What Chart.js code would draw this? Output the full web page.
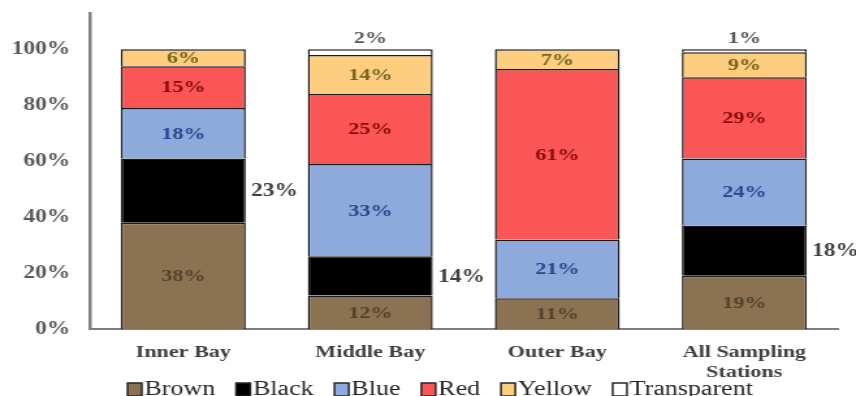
<!DOCTYPE html>
<html>
<head>
<meta charset="utf-8">
<script src="https://cdn.jsdelivr.net/npm/chart.js@4/dist/chart.umd.min.js"></script>
<style>
  body { margin: 0; background: #fff; overflow: hidden; }
  /* the source figure is stretched sideways, so the canvas is too */
  #wrap { width: 658px; height: 396px; transform: scaleX(1.3009); transform-origin: 0 0; }
</style>
</head>
<body>
<div id="wrap"><canvas id="myChart"></canvas></div>
<script>
var categories = ["Inner Bay", "Middle Bay", "Outer Bay", ["All Sampling", "Stations"]];
var seriesNames = ["Brown", "Black", "Blue", "Red", "Yellow", "Transparent"];
var brown = [38, 12, 11, 19];
var black = [23, 14, 0, 18];
var blue = [18, 33, 21, 24];
var red = [15, 25, 61, 29];
var yellow = [6, 14, 7, 9];
var transparent = [0, 2, 0, 1];
var yTicks = [0, 20, 40, 60, 80, 100];

var fills = ["#8b7253", "#000000", "#8eaadc", "#fb5656", "#fdcd80", "#ffffff"];
var textColors = ["#54432c", "#404040", "#2c4590", "#8a0a0a", "#77661e", "#595959"];
var serif = "'Liberation Serif', 'DejaVu Serif', serif";

var values = [brown, black, blue, red, yellow, transparent];
var datasets = [];
for (var i = 0; i < seriesNames.length; i++) {
  datasets.push({
    label: seriesNames[i],
    data: values[i],
    backgroundColor: fills[i],
    borderColor: "#1a1a1a",
    borderWidth: 1.5,
    categoryPercentage: 1,
    barPercentage: 0.668
  });
}

// percent labels on the segments
var segLabels = {
  id: "segLabels",
  afterDatasetsDraw: function (chart) {
    var ctx = chart.ctx;
    ctx.save();
    ctx.textBaseline = "middle";
    chart.data.datasets.forEach(function (ds, d) {
      var meta = chart.getDatasetMeta(d);
      meta.data.forEach(function (bar, j) {
        var v = ds.data[j];
        if (!v) return;
        var p = bar.getProps(["x", "y", "base", "width"], true);
        var txt = v + "%";
        ctx.fillStyle = textColors[d];
        if (d === 1) {
          ctx.font = "bold 18px " + serif;
          ctx.textAlign = "left";
          ctx.fillText(txt, p.x + p.width / 2 + 4, (p.y + p.base) / 2 + 1);
        } else if (d === 5) {
          ctx.font = "bold 17px " + serif;
          ctx.textAlign = "center";
          ctx.fillText(txt, p.x, p.y - 11);
        } else {
          ctx.font = "bold 17px " + serif;
          ctx.textAlign = "center";
          ctx.fillText(txt, p.x, (p.y + p.base) / 2 + 1);
        }
      });
    });
    ctx.restore();
  }
};

// legend like the original: small box, text right after it
var boxLegend = {
  id: "boxLegend",
  afterDraw: function (chart) {
    var ctx = chart.ctx;
    ctx.save();
    ctx.font = "20px " + serif;
    ctx.textBaseline = "alphabetic";
    ctx.textAlign = "left";
    var x = chart.chartArea.left + 29;
    var y = 383;
    for (var k = 0; k < seriesNames.length; k++) {
      ctx.fillStyle = fills[k];
      ctx.fillRect(x, y, 11, 13);
      ctx.strokeStyle = "#262626";
      ctx.lineWidth = 1.5;
      ctx.strokeRect(x, y, 11, 13);
      ctx.fillStyle = "#262626";
      ctx.fillText(seriesNames[k], x + 13, 395);
      x += 13 + ctx.measureText(seriesNames[k]).width + 16;
    }
    ctx.restore();
  }
};

var chart = new Chart("myChart", {
  type: "bar",
  data: { labels: categories, datasets: datasets },
  plugins: [segLabels, boxLegend],
  options: {
    responsive: true,
    maintainAspectRatio: false,
    animation: false,
    layout: { padding: { left: 9, right: 14, top: 13, bottom: 15 } },
    plugins: {
      tooltip: { enabled: false },
      legend: { display: false }
    },
    scales: {
      x: {
        stacked: true,
        grid: { display: false, drawTicks: false },
        border: { display: true, color: "#7f7f7f", width: 2 },
        afterFit: function (s) { s.height = 52; },
        ticks: {
          color: "#404040",
          padding: 14,
          font: { family: serif, size: 17, weight: "bold", lineHeight: 1.15 }
        }
      },
      y: {
        stacked: true,
        min: 0,
        max: 113,
        grid: { display: false, drawTicks: false },
        border: { display: true, color: "#7f7f7f", width: 2.5 },
        afterFit: function (s) {
          s.width = 60;
          s.paddingTop = 0;
          s.paddingBottom = 0;
        },
        afterBuildTicks: function (scale) {
          scale.ticks = yTicks.map(function (v) { return { value: v }; });
        },
        ticks: {
          color: "#595959",
          padding: 15,
          font: { family: serif, size: 18, weight: "bold" },
          callback: function (v) { return v + "%"; }
        }
      }
    }
  }
});
</script>
</body>
</html>
